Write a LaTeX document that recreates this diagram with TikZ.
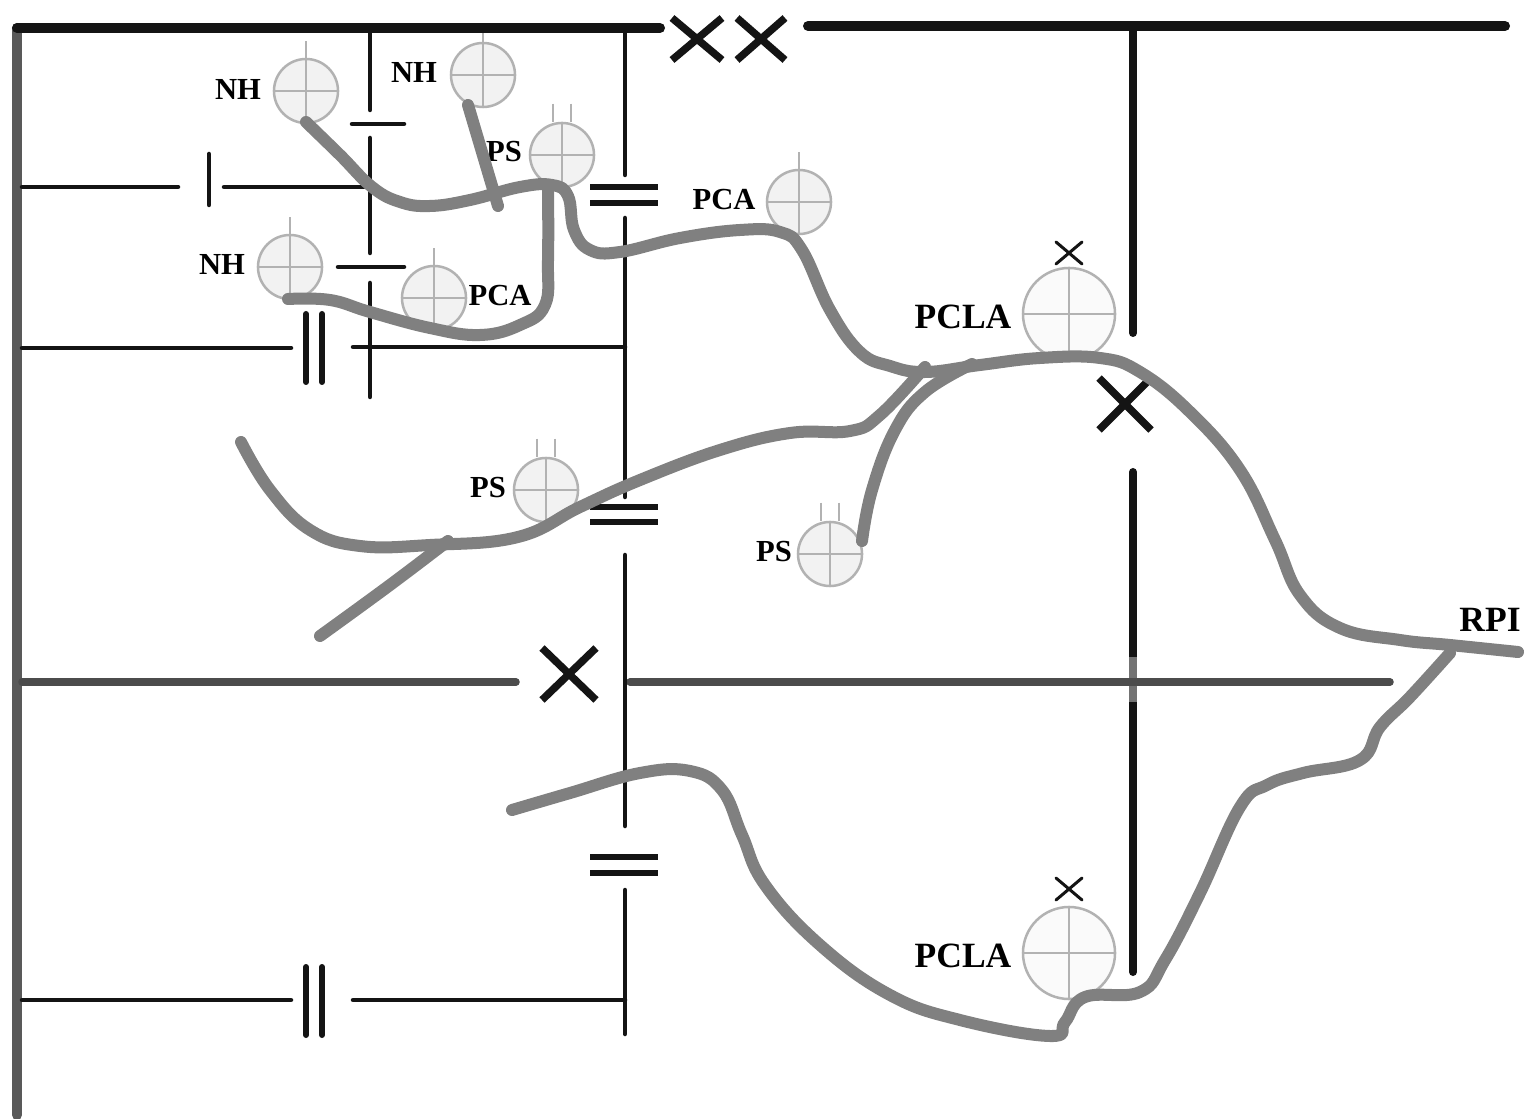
\documentclass[tikz,border=0pt]{standalone}
\usepackage{fontspec}
\setmainfont{Liberation Serif}
\usetikzlibrary{calc}
\tikzset{
 vessel/.style={circle,draw=black!30,fill=black!5,line width=0.25mm,minimum size=0.64cm,inner sep=0pt},
 bigvessel/.style={vessel,fill=black!2,minimum size=0.92cm},
 vline/.style={black!30,line width=0.2mm},
 wire/.style={black!92,line width=0.45mm,line cap=round},
 heavy/.style={black!92,line width=1mm,line cap=round},
 limb/.style={black!70,line width=0.75mm,line cap=round},
 stem/.style={black!50,line width=1.2mm,line cap=round,line join=round},
 lab/.style={inner sep=0pt,font=\fontsize{8.7}{10}\bfseries\selectfont},
 biglab/.style={inner sep=0pt,font=\fontsize{10.1}{12}\bfseries\selectfont},
}
\begin{document}
\begin{tikzpicture}[x=0.01cm,y=-0.01cm]
\useasboundingbox (0,0) rectangle (1528,1119);

\node [vessel] (nha) at (306,91) {};
\node [vessel] (nhb) at (483,75) {};
\node [vessel] (nhc) at (290,267) {};
\node [vessel] (psa) at (562,155) {};
\node [vessel] (psb) at (546,490) {};
\node [vessel] (psc) at (830,554) {};
\node [vessel] (pca) at (434,298) {};
\node [vessel] (pcb) at (799,202) {};
\node [bigvessel] (pcla) at (1069,314) {};
\node [bigvessel] (pclb) at (1069,953) {};

\foreach \n in {nha,nhb,nhc,psa,psb,psc,pca,pcb,pcla,pclb}
 \draw[vline] (\n.west)--(\n.east) (\n.north)--(\n.south);
\foreach \n in {nha,nhb,nhc,pca,pcb}
 \draw[vline] (\n.north)--++(0,-17);
\foreach \n in {psa,psb,psc}
 \draw[vline] ($(\n.north)+(-9,-18)$)--++(0,18) ($(\n.north)+(9,-18)$)--++(0,18);

\node [lab] (lnha) at (238,89) {NH};
\node [lab] (lnhb) at (414,72) {NH};
\node [lab] (lnhc) at (222,264) {NH};
\node [lab] (lpsa) at (504,152) {PS};
\node [lab] (lpsb) at (488,488) {PS};
\node [lab] (lpsc) at (774,552) {PS};
\node [lab] (lpca) at (500,296) {PCA};
\node [lab] (lpcb) at (724,200) {PCA};
\node [biglab] (lpcla) at (963,317) {PCLA};
\node [biglab] (lpclb) at (963,956) {PCLA};
\node [biglab] (lrpi) at (1490,620) {RPI};

\draw[heavy,black!65] (17,28)--(17,1115);
\draw[heavy] (17,28)--(660,28);
\draw[heavy] (808,26)--(1505,26);
\draw[heavy,line width=0.8mm] (1133,30)--(1133,333);
\draw[heavy,line width=0.8mm] (1133,472)--(1133,972);
\draw[heavy,line width=0.8mm,black!55,line cap=butt] (1133,657)--(1133,702);

\draw[limb] (22,682)--(516,682);
\draw[limb] (630,682)--(1390,682);

\draw[wire] (370,33)--(370,110);
\draw[wire] (352,124)--(404,124);
\draw[wire] (370,138)--(370,253);
\draw[wire] (338,267)--(404,267);
\draw[wire] (370,283)--(370,397);

\draw[wire] (22,187)--(178,187);
\draw[wire] (209,154)--(209,205);
\draw[wire] (224,187)--(370,187);
\draw[wire] (22,348)--(291,348);
\draw[wire] (353,347)--(625,347);
\draw[wire] (22,1000)--(291,1000);
\draw[wire] (353,1000)--(625,1000);

\foreach \y/\a/\b in {348/314/382,1000/967/1035}{
 \draw[wire,line width=0.6mm] (306,\a)--(306,\b);
 \draw[wire,line width=0.6mm] (322,\a)--(322,\b);
}

\draw[wire] (625,33)--(625,175);
\draw[wire] (625,218)--(625,497);
\draw[wire] (625,555)--(625,826);
\draw[wire] (625,890)--(625,1034);
\foreach \y in {187,203,507,522,857,873}
 \draw[wire,line width=0.6mm,line cap=butt] (590,\y)--(658,\y);

\foreach \cx/\cy/\sx/\sy in {697/39/25/21,761/39/24/21,1125/404/26/26,569/674/27/26}{
 \draw[wire,line width=0.75mm,line cap=butt] (\cx-\sx,\cy-\sy)--(\cx+\sx,\cy+\sy);
 \draw[wire,line width=0.75mm,line cap=butt] (\cx-\sx,\cy+\sy)--(\cx+\sx,\cy-\sy);
}
\foreach \cx/\cy in {1069/253,1069/889}{
 \draw[wire,line width=0.3mm] (\cx-13,\cy-11)--(\cx+13,\cy+11);
 \draw[wire,line width=0.3mm] (\cx-13,\cy+11)--(\cx+13,\cy-11);
}

\draw[stem] plot[smooth,tension=0.7] coordinates {(306,122) (340,155) (372,187) (400,202) (430,206) (470,200) (520,187) (552,185) (568,196) (574,230) (590,250) (620,252) (680,238) (740,230) (780,232) (802,250) (830,310) (860,352) (890,366) (925,372) (980,365) (1040,358) (1100,358) (1140,372) (1190,412) (1240,470) (1275,540) (1300,595) (1340,628) (1400,640) (1450,645) (1518,652)};
\draw[stem] (468,105)--(498,206);
\draw[stem] plot[smooth,tension=0.7] coordinates {(288,299) (330,300) (370,312) (430,328) (480,335) (520,325) (545,305) (548,260) (548,185)};
\draw[stem] plot[smooth,tension=0.7] coordinates {(241,442) (270,490) (310,530) (360,546) (430,545) (518,537) (580,507) (640,480) (720,450) (790,433) (850,431) (880,415) (925,367)};
\draw[stem] plot[smooth,tension=0.7] coordinates {(320,636) (390,585) (448,541)};
\draw[stem] plot[smooth,tension=0.7] coordinates {(862,541) (872,490) (895,430) (925,392) (972,364)};
\draw[stem] plot[smooth,tension=0.7] coordinates {(512,810) (570,793) (640,773) (690,771) (722,790) (742,835) (765,885) (820,945) (890,995) (960,1020) (1050,1036) (1065,1022) (1085,997) (1140,992) (1165,960) (1200,893) (1240,807) (1267,785) (1303,773) (1360,760) (1380,727) (1410,697) (1450,653)};
\end{tikzpicture}
\end{document}
